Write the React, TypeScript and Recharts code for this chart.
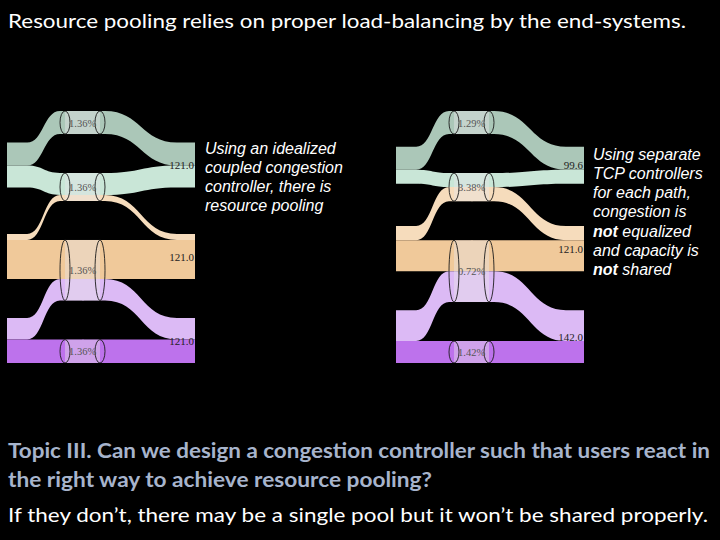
import React from "react";
import { Sankey } from "recharts";

// three users, each splitting its traffic over two of four shared links
const users = ["User 1", "User 2", "User 3"];
const pathLinks = ["Link 1", "Link 2", "Link 3", "Link 4"];
const subflowUser = [0, 0, 1, 1, 2, 2];
const subflowLink = [0, 1, 1, 2, 2, 3];

// idealized coupled controller
const coupledRates = [62, 59, 16, 105, 58, 63];
const coupledLoss = ["1.36%", "1.36%", "1.36%", "1.36%"];

// separate TCP per path
const separateRates = [62, 37.6, 38, 83, 83, 59];
const separateLoss = ["1.29%", "3.38%", "0.72%", "1.42%"];

const subflowColors = ["#abc7b8", "#c9e6d7", "#f6dcbc", "#f0c99a", "#dcbaf5", "#bd72ec"];

const NODE_W = 45;
const PANEL_W = 188;
const PANEL_H = 252;

function buildData(rates: number[], loss: string[]) {
  const nodes = [
    ...users.map((u) => ({ name: u + " in" })),
    ...pathLinks.map((l, i) => ({ name: l, loss: loss[i] })),
    ...users.map((u) => ({ name: u + " out" })),
  ];
  const inLinks = rates.map((v, i) => ({
    source: subflowUser[i],
    target: users.length + subflowLink[i],
    value: v,
  }));
  const outLinks = rates.map((v, i) => ({
    source: users.length + subflowLink[i],
    target: users.length + pathLinks.length + subflowUser[i],
    value: v,
  }));
  return { nodes, links: [...inLinks, ...outLinks] };
}

function Ribbon(props: any) {
  const { sourceX, targetX, sourceY, targetY, linkWidth, index, payload } = props;
  const h = linkWidth / 2;
  const fromLeft = payload.source.depth === 0;
  let x0, x1, x2, x3;
  if (fromLeft) {
    x0 = sourceX - NODE_W;
    x1 = sourceX + 0.27 * (targetX - sourceX);
    x2 = targetX;
    x3 = targetX + NODE_W / 2 + 1;
  } else {
    x0 = sourceX - NODE_W / 2;
    x1 = sourceX;
    x2 = targetX + 0.6 * NODE_W;
    x3 = targetX + NODE_W;
  }
  const c1 = (x1 + x2) / 2;
  const d = [
    `M${x0},${sourceY - h}`,
    `L${x1},${sourceY - h}`,
    `C${c1},${sourceY - h} ${c1},${targetY - h} ${x2},${targetY - h}`,
    `L${x3},${targetY - h}`,
    `L${x3},${targetY + h}`,
    `L${x2},${targetY + h}`,
    `C${c1},${targetY + h} ${c1},${sourceY + h} ${x1},${sourceY + h}`,
    `L${x0},${sourceY + h}`,
    "Z",
  ].join(" ");
  return <path d={d} fill={subflowColors[index % subflowColors.length]} stroke="none" />;
}

function Node(props: any) {
  const { x, y, width, height, payload } = props;
  if (payload.depth === 0) return <g />;
  const cy = y + height / 2;
  if (payload.depth === 2) {
    return (
      <text
        x={x + width - 1}
        y={cy + 4}
        textAnchor="end"
        fontSize={11}
        fontFamily="Liberation Serif, serif"
        fill="#222"
      >
        {payload.value.toFixed(1)}
      </text>
    );
  }
  const rx = 5;
  return (
    <g>
      <rect x={x + rx} y={y} width={width - 2 * rx} height={height} fill="rgba(232,228,232,0.42)" />
      <ellipse cx={x + rx} cy={cy} rx={rx} ry={height / 2} fill="none" stroke="#1c1c1c" strokeWidth={0.9} />
      <ellipse cx={x + width - rx} cy={cy} rx={rx} ry={height / 2} fill="none" stroke="#1c1c1c" strokeWidth={0.9} />
      <text x={x + 9} y={cy + 4} fontSize={10.5} fontFamily="Liberation Serif, serif" fill="#555">
        {payload.loss}
      </text>
    </g>
  );
}

function Panel({ rates, loss }: { rates: number[]; loss: string[] }) {
  return (
    <Sankey
      width={PANEL_W}
      height={PANEL_H}
      data={buildData(rates, loss)}
      nodeWidth={NODE_W}
      nodePadding={39}
      iterations={64}
      sort={false}
      margin={{ top: 0, right: 0, bottom: 0, left: -37 }}
      node={(p: any) => <Node {...p} />}
      link={(p: any) => <Ribbon {...p} />}
    />
  );
}

const annoFont = "Liberation Sans, Arial, sans-serif";
const slideFont = "Lato, 'Open Sans', sans-serif";

export default function App() {
  return (
    <div
      style={{
        position: "absolute",
        left: 0,
        top: 0,
        width: 720,
        height: 540,
        background: "#000",
        overflow: "hidden",
      }}
    >
      <svg width={720} height={540} style={{ position: "absolute", left: 0, top: 0 }}>
        <text x={8} y={28} fontSize={20} fill="#fff" fontFamily={slideFont} textLength={678} lengthAdjust="spacingAndGlyphs">
          Resource pooling relies on proper load-balancing by the end-systems.
        </text>
        <g fontFamily={annoFont} fontStyle="italic" fontSize={16} fill="#fff">
          <text x={205} y={153.5}>Using an idealized</text>
          <text x={205} y={172.8}>coupled congestion</text>
          <text x={205} y={192.1}>controller, there is</text>
          <text x={205} y={211.4}>resource pooling</text>
          <text x={593} y={159.5}>Using separate</text>
          <text x={593} y={178.8}>TCP controllers</text>
          <text x={593} y={198.1}>for each path,</text>
          <text x={593} y={217.4}>congestion is</text>
          <text x={593} y={236.7}>
            <tspan fontWeight="bold">not</tspan> equalized
          </text>
          <text x={593} y={256}>and capacity is</text>
          <text x={593} y={275.3}>
            <tspan fontWeight="bold">not</tspan> shared
          </text>
        </g>
        <g fontFamily={slideFont} fontSize={20}>
          <text x={8} y={458} fill="#a7b4cc" fontWeight="bold" textLength={702} lengthAdjust="spacingAndGlyphs">
            Topic III. Can we design a congestion controller such that users react in
          </text>
          <text x={8} y={487} fill="#a7b4cc" fontWeight="bold" textLength={424} lengthAdjust="spacingAndGlyphs">
            the right way to achieve resource pooling?
          </text>
          <text x={8} y={522} fill="#fff" textLength={700} lengthAdjust="spacingAndGlyphs">
            If they don’t, there may be a single pool but it won’t be shared properly.
          </text>
        </g>
      </svg>
      <div style={{ position: "absolute", left: 7, top: 111 }}>
        <Panel rates={coupledRates} loss={coupledLoss} />
      </div>
      <div style={{ position: "absolute", left: 396, top: 111 }}>
        <Panel rates={separateRates} loss={separateLoss} />
      </div>
    </div>
  );
}
